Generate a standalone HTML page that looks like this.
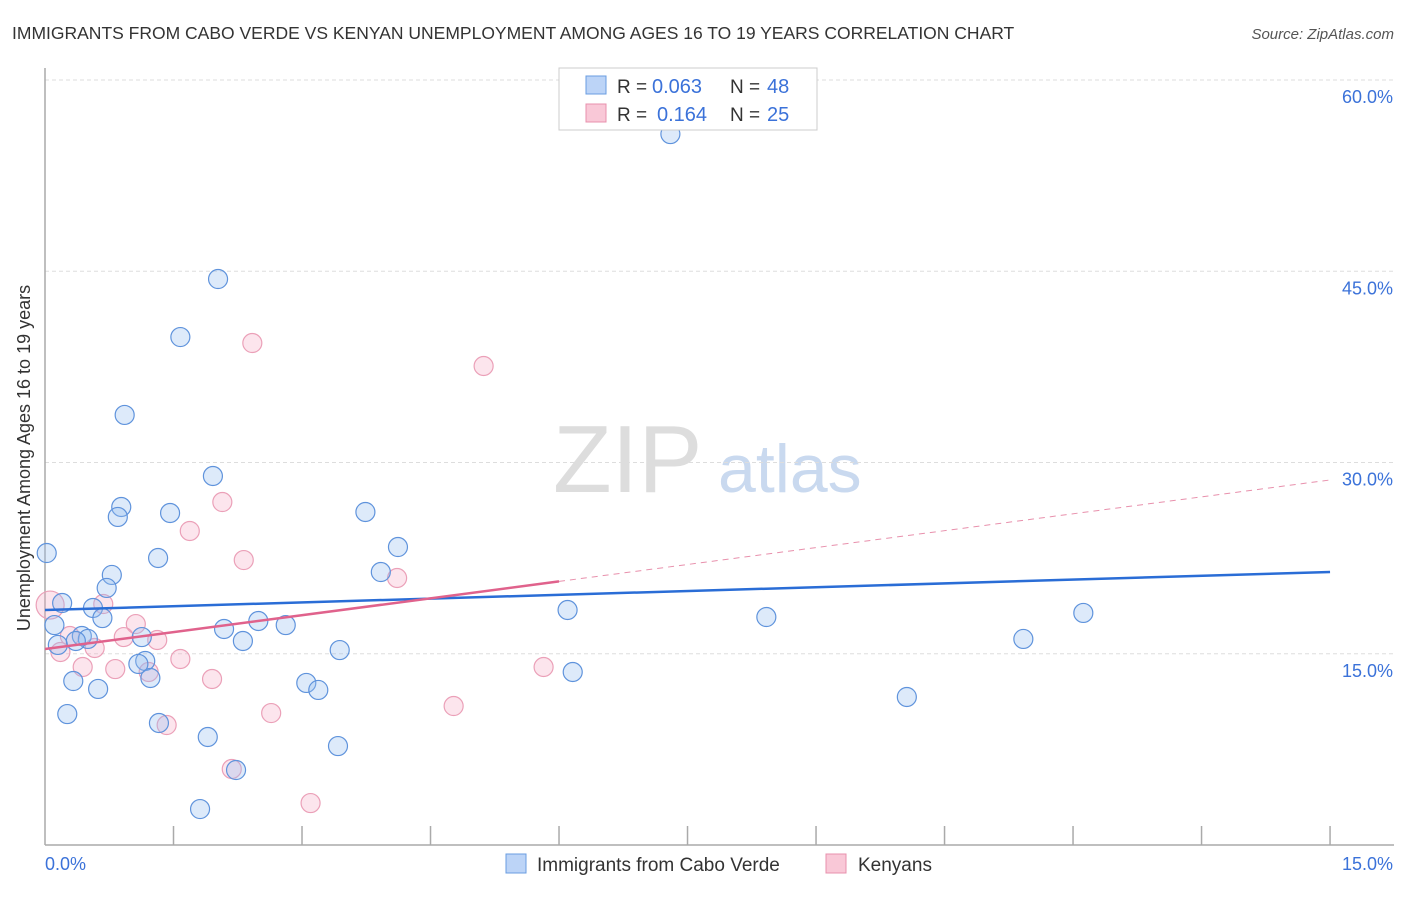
<!DOCTYPE html>
<html><head><meta charset="utf-8"><style>
body{margin:0;background:#fff;font-family:"Liberation Sans",sans-serif;}
svg text{font-family:"Liberation Sans",sans-serif;}
</style></head><body>
<svg id="c" width="1406" height="892" xmlns="http://www.w3.org/2000/svg">
<text x="12" y="39" font-size="17.5" fill="#333">IMMIGRANTS FROM CABO VERDE VS KENYAN UNEMPLOYMENT AMONG AGES 16 TO 19 YEARS CORRELATION CHART</text>
<text x="1394" y="39" font-size="15" fill="#555" font-style="italic" text-anchor="end">Source: ZipAtlas.com</text>
<text x="30" y="458" font-size="18" fill="#333" text-anchor="middle" transform="rotate(-90 30 458)">Unemployment Among Ages 16 to 19 years</text>
<text x="553" y="492" font-size="96" fill="#ddd" font-family="Liberation Serif">ZIP</text>
<text x="718" y="492" font-size="68" fill="#c9d9ef">atlas</text>
<g id="grid"></g><g id="axes"></g><g id="pts"></g><g id="trend"></g>
<g>
<rect x="559" y="68" width="258" height="62" fill="#fff" stroke="#ccc"/>
<rect x="586" y="76" width="20" height="18" fill="#bcd4f7" stroke="#6a9de0"/>
<text x="617" y="93" font-size="19" fill="#333">R =</text>
<text x="652" y="93" font-size="20" fill="#3b72d9">0.063</text>
<text x="730" y="93" font-size="19" fill="#333">N =</text>
<text x="767" y="93" font-size="20" fill="#3b72d9">48</text>
<rect x="586" y="104" width="20" height="18" fill="#f9c8d7" stroke="#e890ac"/>
<text x="617" y="121" font-size="19" fill="#333">R =</text>
<text x="657" y="121" font-size="20" fill="#3b72d9">0.164</text>
<text x="730" y="121" font-size="19" fill="#333">N =</text>
<text x="767" y="121" font-size="20" fill="#3b72d9">25</text>
</g>
<g>
<rect x="506" y="854" width="20" height="19" fill="#bcd4f7" stroke="#6a9de0"/>
<text x="537" y="871" font-size="19" fill="#333">Immigrants from Cabo Verde</text>
<rect x="826" y="854" width="20" height="19" fill="#f9c8d7" stroke="#e890ac"/>
<text x="858" y="871" font-size="19" fill="#333">Kenyans</text>
</g>
</svg>
<script>
const blueX=[7.30,2.02,1.58,0.93,1.96,0.89,0.85,1.46,3.74,0.02,1.32,4.12,0.78,3.92,0.72,0.20,0.56,0.67,6.10,8.42,12.12,0.11,2.49,2.81,2.09,0.43,0.50,1.13,0.15,0.36,2.31,11.42,3.44,1.17,1.09,1.23,6.16,0.33,3.05,0.62,3.19,10.06,0.26,1.33,1.90,3.42,2.23,1.81];
const blueY=[55.76,44.39,39.84,33.73,28.94,26.51,25.73,26.04,26.12,22.90,22.51,23.37,21.18,21.41,20.16,18.98,18.59,17.80,18.43,17.88,18.20,17.25,17.57,17.25,16.94,16.39,16.16,16.31,15.69,16.00,16.00,16.16,15.29,14.43,14.20,13.10,13.57,12.86,12.71,12.24,12.16,11.61,10.27,9.57,8.47,7.76,5.88,2.82];
const pinkX=[2.42,5.12,2.07,1.69,2.32,4.11,0.06,0.68,1.06,0.92,1.31,0.58,0.18,0.44,0.82,1.58,1.21,5.82,1.95,2.64,4.77,1.42,2.18,3.10,0.29];
const pinkY=[39.37,37.57,26.90,24.63,22.35,20.94,18.82,18.90,17.33,16.31,16.08,15.45,15.14,13.96,13.80,14.59,13.57,13.96,13.02,10.35,10.90,9.41,5.96,3.29,16.39];
const yTicks=[15,30,45,60];
const yTickLabels=["15.0%","30.0%","45.0%","60.0%"];
const blueTrend=[18.43,21.41];
const pinkTrend=[15.37,0.884];
const NS="http://www.w3.org/2000/svg";
const sx=v=>45+v*85.67, sy=v=>845-v*12.75;
function mk(t,a,p){const e=document.createElementNS(NS,t);for(const k in a)e.setAttribute(k,a[k]);p.appendChild(e);return e;}
const grid=document.getElementById('grid'),axes=document.getElementById('axes'),pts=document.getElementById('pts'),tr=document.getElementById('trend');
yTicks.forEach((v,i)=>{
 const l=mk('line',{x1:45,x2:1394,y1:sy(v),y2:sy(v),stroke:'#ddd','stroke-dasharray':'4 3'},grid);
 
 
 const t=mk('text',{x:1393,y:sy(v)+23,'font-size':18,fill:'#3b72d9','text-anchor':'end'},grid);
 t.textContent=yTickLabels[i];
 
 
});
mk('line',{x1:45,x2:45,y1:68,y2:845,stroke:'#aaa','stroke-width':1.5},axes);
mk('line',{x1:45,x2:1394,y1:845,y2:845,stroke:'#aaa','stroke-width':1.5},axes);
for(let i=1;i<=10;i++){const tk=mk('line',{x1:sx(i*1.5),x2:sx(i*1.5),y1:826,y2:845,stroke:'#aaa','stroke-width':1.5},axes);
 
 }
const x0=mk('text',{x:45,y:870,'font-size':18,fill:'#3b72d9'},axes);x0.textContent='0.0%';


const x1=mk('text',{x:1393,y:870,'font-size':18,fill:'#3b72d9','text-anchor':'end'},axes);x1.textContent='15.0%';


pinkX.forEach((v,i)=>{const c=mk('circle',{cx:sx(v),cy:sy(pinkY[i]),r:i==6?14:9.5,fill:'rgba(245,170,195,0.3)',stroke:'#eba0b8','stroke-width':1.2},pts);
 
 });
blueX.forEach((v,i)=>{const c=mk('circle',{cx:sx(v),cy:sy(blueY[i]),r:9.5,fill:'rgba(150,190,240,0.32)',stroke:'#5f93dc','stroke-width':1.2},pts);
 
 });
const bt=mk('line',{x1:sx(0),y1:sy(blueTrend[0]),x2:sx(15),y2:sy(blueTrend[1]),stroke:'#2a6dd6','stroke-width':2.5},tr);


const pf=x=>pinkTrend[0]+pinkTrend[1]*x;
const pt=mk('line',{x1:sx(0),y1:sy(pf(0)),x2:sx(6),y2:sy(pf(6)),stroke:'#e0628c','stroke-width':2.5},tr);


const pd=mk('line',{x1:sx(6),y1:sy(pf(6)),x2:sx(15),y2:sy(pf(15)),stroke:'#e890ac','stroke-width':1,'stroke-dasharray':'6 5'},tr);


</script>
</body></html>
